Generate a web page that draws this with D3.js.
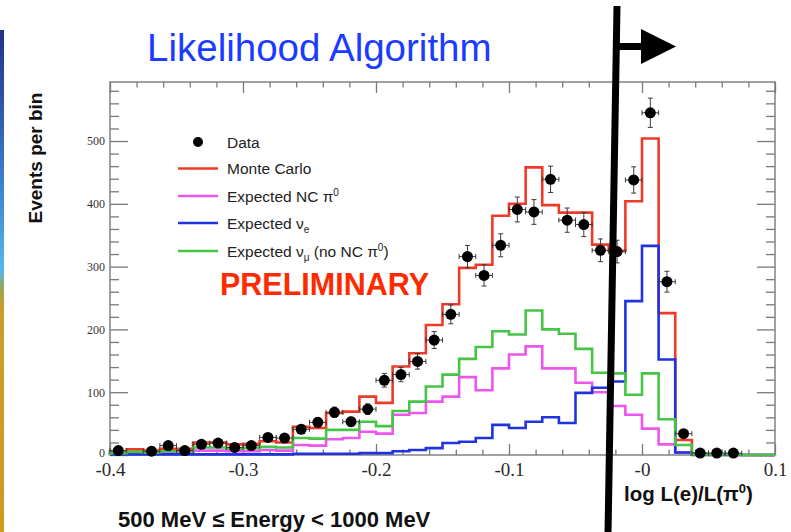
<!DOCTYPE html>
<html>
<head>
<meta charset="utf-8">
<script src="https://cdn.jsdelivr.net/npm/d3@7"></script>
<style>
  html, body { margin: 0; padding: 0; background: #fff; overflow: hidden; }
  svg { display: block; }
</style>
</head>
<body>
<svg id="chart" width="791" height="532"></svg>
<script>
// Binning of log L(e)/L(pi0): 40 bins of 0.0125 between -0.4 and 0.1
const xMin = -0.4, xMax = 0.1, nBins = 40;

const xTickValues = [-0.4, -0.3, -0.2, -0.1, 0, 0.1];
const xTickLabels = ["-0.4", "-0.3", "-0.2", "-0.1", "-0", "0.1"];
const yTickValues = [0, 100, 200, 300, 400, 500];
const yTickLabels = ["0", "100", "200", "300", "400", "500"];

// Observed events per bin and their statistical errors
const dataCounts = [7, 0, 6, 15, 7, 17, 19, 12, 15, 28, 27, 41, 52, 68, 53, 73, 119, 128, 149, 183,
                    224, 316, 286, 334, 391, 387, 439, 374, 367, 326, 324, 438, 545, 276, 34, 3, 3, 3, 0, 0];
const dataErrors = [2.6, 0, 2.4, 3.9, 2.6, 4.1, 4.4, 3.5, 3.9, 5.3, 5.2, 6.4, 7.2, 8.2, 7.3, 8.5, 10.9, 11.3, 12.2, 13.5,
                    15.0, 17.8, 16.9, 18.3, 19.8, 19.7, 21.0, 19.3, 19.2, 18.1, 18.0, 20.9, 23.3, 16.6, 5.8, 1.7, 1.7, 1.7, 0, 0];

// Simulated expectations per bin
const monteCarlo = [6, 9, 7, 10, 10, 20, 20, 17, 18, 22, 20, 45, 43, 67, 69, 93, 83, 141, 162, 207,
                    240, 298, 303, 381, 400, 458, 398, 386, 386, 335, 325, 404, 504, 226, 24, 2, 1, 1, 0, 0];
const expectedNCpi0 = [2, 3, 2, 3, 3, 7, 7, 6, 6, 8, 7, 16, 15, 25, 27, 37, 34, 64, 67, 85,
                       93, 124, 103, 138, 160, 173, 138, 138, 115, 100, 78, 64, 42, 17, 4, 1, 0, 0, 0, 0];
const expectedNuE = [1, 1, 1, 1, 1, 1, 1, 1, 1, 1, 1, 2, 2, 2, 2, 3, 3, 6, 8, 11,
                     19, 21, 27, 48, 43, 53, 60, 51, 99, 107, 117, 245, 333, 152, 4, 0, 0, 0, 0, 0];
const expectedNuMu = [3, 5, 4, 6, 6, 12, 12, 10, 11, 13, 12, 27, 26, 40, 40, 53, 46, 70, 85, 109,
                      128, 153, 172, 197, 192, 230, 200, 193, 169, 131, 130, 96, 130, 57, 16, 1, 1, 1, 0, 0];

const svg = d3.select("#chart");
const W = 791, H = 532;
const plot = { left: 110, right: 775, top: 82, bottom: 455 };

const x = d3.scaleLinear().domain([xMin, xMax]).range([plot.left, plot.right]);
const y = d3.scaleLinear().domain([0, 594]).range([plot.bottom, plot.top]);
const binWidth = (xMax - xMin) / nBins;
const binLow = i => xMin + i * binWidth;

// Slide decoration: coloured strip on the left edge
const defs = svg.append("defs");
const grad = defs.append("linearGradient").attr("id", "strip").attr("x1", 0).attr("y1", 0).attr("x2", 0).attr("y2", 1);
[["0%", "#22308c"], ["30%", "#3a7fd0"], ["48%", "#55b8ea"], ["51%", "#8ea860"], ["55%", "#c99d2c"], ["100%", "#d39a1c"]]
  .forEach(([o, c]) => grad.append("stop").attr("offset", o).attr("stop-color", c));
svg.append("rect").attr("x", 0).attr("y", 30).attr("width", 4).attr("height", H - 30).attr("fill", "url(#strip)");

// Title
svg.append("text").attr("x", 147).attr("y", 61)
  .attr("font-family", "'Liberation Sans', Arial, sans-serif").attr("font-size", 38.5)
  .attr("fill", "#1b3bff").text("Likelihood Algorithm");

// Frame
svg.append("rect").attr("x", plot.left).attr("y", plot.top)
  .attr("width", plot.right - plot.left).attr("height", plot.bottom - plot.top)
  .attr("fill", "none").attr("stroke", "#8a8a8a").attr("stroke-width", 1.6);

// Ticks on all four sides
const xMinor = d3.range(-0.38, 0.1, 0.02).filter(v => Math.abs(Math.round(v * 10) - v * 10) > 1e-6);
const yMinor = d3.range(20, 594, 20).filter(v => v % 100 !== 0);
const tickStyle = g => {
  g.select(".domain").remove();
  g.selectAll(".tick line").attr("stroke", "#7a7a7a").attr("stroke-width", 1.3);
};
const serif = "'Liberation Serif', 'Times New Roman', serif";

svg.append("g").attr("transform", `translate(0,${plot.bottom})`)
  .call(d3.axisBottom(x).tickValues(xTickValues).tickSizeInner(-11).tickSizeOuter(0).tickPadding(8)
    .tickFormat((d, i) => xTickLabels[i]))
  .call(tickStyle)
  .call(g => g.selectAll("text").attr("font-family", serif).attr("font-size", 19).attr("fill", "#2a2a2a"));
svg.append("g").attr("transform", `translate(0,${plot.bottom})`)
  .call(d3.axisBottom(x).tickValues(xMinor).tickSizeInner(-5.5).tickSizeOuter(0).tickFormat(""))
  .call(tickStyle);
svg.append("g").attr("transform", `translate(0,${plot.top})`)
  .call(d3.axisTop(x).tickValues(xTickValues).tickSizeInner(-11).tickSizeOuter(0).tickFormat(""))
  .call(tickStyle);
svg.append("g").attr("transform", `translate(0,${plot.top})`)
  .call(d3.axisTop(x).tickValues(xMinor).tickSizeInner(-5.5).tickSizeOuter(0).tickFormat(""))
  .call(tickStyle);

svg.append("g").attr("transform", `translate(${plot.left},0)`)
  .call(d3.axisLeft(y).tickValues(yTickValues).tickSizeInner(-18).tickSizeOuter(0).tickPadding(5)
    .tickFormat((d, i) => yTickLabels[i]))
  .call(tickStyle)
  .call(g => g.selectAll("text").attr("font-family", serif).attr("font-size", 12).attr("fill", "#333"))
  .call(g => g.selectAll(".tick").filter(d => d === 0).select("text").attr("dy", "0.1em"));
svg.append("g").attr("transform", `translate(${plot.left},0)`)
  .call(d3.axisLeft(y).tickValues(yMinor).tickSizeInner(-9).tickSizeOuter(0).tickFormat(""))
  .call(tickStyle);
svg.append("g").attr("transform", `translate(${plot.right},0)`)
  .call(d3.axisRight(y).tickValues(yTickValues).tickSizeInner(-18).tickSizeOuter(0).tickFormat(""))
  .call(tickStyle);
svg.append("g").attr("transform", `translate(${plot.right},0)`)
  .call(d3.axisRight(y).tickValues(yMinor).tickSizeInner(-9).tickSizeOuter(0).tickFormat(""))
  .call(tickStyle);

// Axis titles
svg.append("text").attr("transform", "translate(42,158) rotate(-90)")
  .attr("text-anchor", "middle").attr("font-family", "'Liberation Sans', Arial, sans-serif")
  .attr("font-weight", "bold").attr("font-size", 19).attr("fill", "#111").text("Events per bin");

const xTitle = svg.append("text").attr("x", 624).attr("y", 501)
  .attr("font-family", "'Liberation Sans', Arial, sans-serif").attr("font-weight", "bold")
  .attr("font-size", 20.5).attr("fill", "#111");
xTitle.append("tspan").text("log L(e)/L(π");
xTitle.append("tspan").attr("dy", -8).attr("font-size", 13).text("0");
xTitle.append("tspan").attr("dy", 8).text(")");

svg.append("text").attr("x", 118).attr("y", 527)
  .attr("font-family", "'Liberation Sans', Arial, sans-serif").attr("font-weight", "bold")
  .attr("font-size", 22).attr("fill", "#111").text("500 MeV ≤ Energy < 1000 MeV");

// Histograms as step outlines
const stepLine = d3.line().x(d => x(d[0])).y(d => y(d[1])).curve(d3.curveStepAfter);
function outline(values) {
  const pts = [[xMin, 0]];
  values.forEach((v, i) => pts.push([binLow(i), v]));
  pts.push([xMax, values[values.length - 1]]);
  pts.push([xMax, 0]);
  return pts;
}
const series = [
  { values: monteCarlo, color: "#ee3b28" },
  { values: expectedNCpi0, color: "#ee55ee" },
  { values: expectedNuE, color: "#1f33e0" },
  { values: expectedNuMu, color: "#45c445" }
];
series.forEach(s => {
  svg.append("path").attr("d", stepLine(outline(s.values)))
    .attr("fill", "none").attr("stroke", s.color).attr("stroke-width", 2.6)
    .attr("stroke-linejoin", "miter");
});

// Data points with error bars (empty bins are not drawn)
const points = dataCounts.map((v, i) => ({ v, e: dataErrors[i], c: binLow(i) + binWidth / 2, lo: binLow(i), hi: binLow(i) + binWidth }))
  .filter(d => d.v > 0);
const gData = svg.append("g");
const cap = 2.5;
points.forEach(d => {
  const cx = x(d.c), cy = y(d.v);
  const g = gData.append("g").attr("stroke", "#3a3a3a").attr("stroke-width", 1);
  g.append("line").attr("x1", cx).attr("x2", cx).attr("y1", y(d.v + d.e)).attr("y2", y(d.v - d.e));
  g.append("line").attr("x1", x(d.lo)).attr("x2", x(d.hi)).attr("y1", cy).attr("y2", cy);
  g.append("line").attr("x1", cx - cap).attr("x2", cx + cap).attr("y1", y(d.v + d.e)).attr("y2", y(d.v + d.e));
  g.append("line").attr("x1", cx - cap).attr("x2", cx + cap).attr("y1", y(d.v - d.e)).attr("y2", y(d.v - d.e));
  g.append("line").attr("x1", x(d.lo)).attr("x2", x(d.lo)).attr("y1", cy - cap).attr("y2", cy + cap);
  g.append("line").attr("x1", x(d.hi)).attr("x2", x(d.hi)).attr("y1", cy - cap).attr("y2", cy + cap);
  gData.append("circle").attr("cx", cx).attr("cy", cy).attr("r", 5.5).attr("fill", "#000");
});

// Legend
const sans = "'Liberation Sans', Arial, sans-serif";
const legend = svg.append("g").attr("font-family", sans).attr("font-size", 15.5).attr("fill", "#222");
legend.append("circle").attr("cx", 198).attr("cy", 142).attr("r", 5).attr("fill", "#000");
legend.append("text").attr("x", 227).attr("y", 147.5).text("Data");
const legendLines = [
  { y: 168.5, color: "#ee3b28" },
  { y: 196, color: "#ee55ee" },
  { y: 223, color: "#1f33e0" },
  { y: 251, color: "#45c445" }
];
legendLines.forEach(l => legend.append("line").attr("x1", 178).attr("x2", 218).attr("y1", l.y).attr("y2", l.y)
  .attr("stroke", l.color).attr("stroke-width", 2.4));
legend.append("text").attr("x", 227).attr("y", 174).text("Monte Carlo");
const t2 = legend.append("text").attr("x", 227).attr("y", 201.5);
t2.append("tspan").text("Expected NC π");
t2.append("tspan").attr("dy", -6).attr("font-size", 10).text("0");
const t3 = legend.append("text").attr("x", 227).attr("y", 228.5);
t3.append("tspan").text("Expected ν");
t3.append("tspan").attr("dy", 4).attr("font-size", 10).text("e");
const t4 = legend.append("text").attr("x", 227).attr("y", 256.5);
t4.append("tspan").text("Expected ν");
t4.append("tspan").attr("dy", 4).attr("font-size", 10).text("μ");
t4.append("tspan").attr("dy", -4).text(" (no NC π");
t4.append("tspan").attr("dy", -6).attr("font-size", 10).text("0");
t4.append("tspan").attr("dy", 6).text(")");

// PRELIMINARY stamp
svg.append("text").attr("x", 220).attr("y", 295)
  .attr("font-family", sans).attr("font-weight", "bold").attr("font-size", 30.5)
  .attr("fill", "#ff2a00").text("PRELIMINARY");

// Cut position marker with arrow pointing to the selected region
svg.append("line").attr("x1", 617).attr("y1", 6).attr("x2", 608).attr("y2", H + 2)
  .attr("stroke", "#000").attr("stroke-width", 7);
svg.append("line").attr("x1", 617).attr("y1", 46.5).attr("x2", 645).attr("y2", 46.5)
  .attr("stroke", "#000").attr("stroke-width", 7);
svg.append("path").attr("d", "M641,29 L676,46.5 L641,64 Z").attr("fill", "#000");
</script>
</body>
</html>
